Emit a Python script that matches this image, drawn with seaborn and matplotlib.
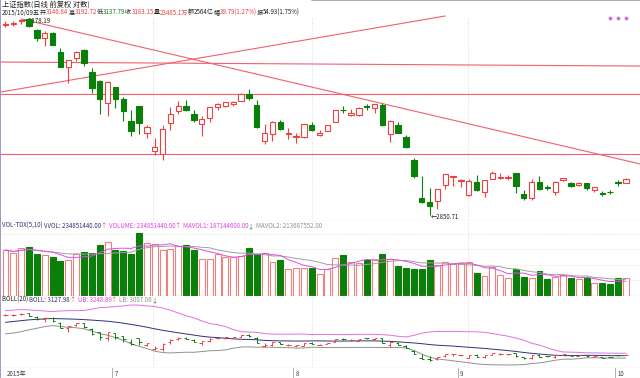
import numpy as np
import pandas as pd
import matplotlib
matplotlib.use('Agg')
import matplotlib.pyplot as plt
import matplotlib.transforms as mtransforms
import seaborn as sns

# 上证指数 日线 2015-06-10 ~ 2015-10-09
dates = ['06-10', '06-11', '06-12', '06-15', '06-16', '06-17', '06-18', '06-19', '06-23', '06-24',
         '06-25', '06-26', '06-29', '06-30', '07-01', '07-02', '07-03', '07-06', '07-07', '07-08',
         '07-09', '07-10', '07-13', '07-14', '07-15', '07-16', '07-17', '07-20', '07-21', '07-22',
         '07-23', '07-24', '07-27', '07-28', '07-29', '07-30', '07-31', '08-03', '08-04', '08-05',
         '08-06', '08-07', '08-10', '08-11', '08-12', '08-13', '08-14', '08-17', '08-18', '08-19',
         '08-20', '08-21', '08-24', '08-25', '08-26', '08-27', '08-28', '08-31', '09-01', '09-02',
         '09-07', '09-08', '09-09', '09-10', '09-11', '09-14', '09-15', '09-16', '09-17', '09-18',
         '09-21', '09-22', '09-23', '09-24', '09-25', '09-28', '09-29', '09-30', '10-08', '10-09']
opens = [5080.0, 5101.0, 5143.3, 5174.4, 5004.4, 4890.5, 4967.3, 4689.9, 4471.6, 4604.4,
         4711.8, 4399.9, 4289.8, 4006.8, 4214.2, 4058.6, 3793.4, 3975.2, 3663.0, 3467.4,
         3432.5, 3767.8, 3913.9, 3972.5, 3874.9, 3761.9, 3826.0, 3959.7, 3973.1, 3996.2,
         4034.8, 4124.6, 3985.6, 3573.1, 3652.2, 3779.9, 3644.8, 3614.6, 3613.9, 3747.6,
         3640.1, 3683.3, 3786.2, 3928.6, 3870.0, 3862.6, 3974.8, 3946.3, 3986.3, 3646.8,
         3754.6, 3609.9, 3373.5, 3004.4, 2970.0, 2978.0, 3125.3, 3203.6, 3157.8, 3027.7,
         3149.4, 3054.4, 3180.8, 3190.6, 3189.5, 3237.2, 3041.4, 3000.4, 3147.9, 3100.0,
         3053.1, 3167.7, 3139.5, 3126.9, 3141.5, 3078.6, 3052.1, 3054.0, 3156.1, 3146.84]
highs = [5147.4, 5143.3, 5178.19, 5176.8, 5029.7, 4986.7, 4983.8, 4744.1, 4577.3, 4691.8,
         4720.7, 4456.9, 4297.5, 4287.3, 4214.2, 4080.1, 3927.6, 3975.2, 3747.9, 3600.7,
         3748.5, 3959.2, 4030.2, 4043.6, 3920.1, 3854.2, 3964.7, 4006.0, 4017.7, 4036.0,
         4133.6, 4184.5, 4051.0, 3757.7, 3792.0, 3803.9, 3716.3, 3660.7, 3757.3, 3782.4,
         3693.4, 3754.7, 3929.5, 3970.3, 3936.9, 3955.8, 3998.3, 3994.5, 4006.3, 3811.9,
         3788.9, 3640.2, 3388.4, 3214.4, 3092.1, 3085.4, 3232.4, 3207.9, 3180.8, 3181.8,
         3217.3, 3174.7, 3256.7, 3243.3, 3223.8, 3239.6, 3078.4, 3182.9, 3207.2, 3119.5,
         3157.3, 3193.9, 3147.7, 3148.4, 3146.1, 3100.8, 3062.4, 3073.3, 3172.3, 3192.72]
lows = [5050.0, 5072.0, 5103.4, 5048.7, 4846.6, 4767.3, 4780.7, 4476.5, 4264.8, 4552.4,
        4483.4, 4139.5, 3875.1, 3847.9, 3945.4, 3795.3, 3629.6, 3653.0, 3602.4, 3421.5,
        3373.5, 3689.7, 3874.3, 3915.7, 3780.6, 3629.0, 3789.6, 3926.5, 3955.4, 3966.8,
        4029.8, 4043.2, 3720.6, 3537.4, 3573.6, 3698.3, 3593.7, 3549.6, 3605.0, 3686.6,
        3620.9, 3683.3, 3786.2, 3891.3, 3853.9, 3855.4, 3928.7, 3884.6, 3743.3, 3558.4,
        3663.1, 3490.5, 3191.1, 2952.9, 2850.71, 2906.0, 3085.7, 3109.2, 3102.9, 3019.1,
        3066.3, 3011.8, 3180.8, 3178.6, 3166.4, 3049.8, 2983.9, 2983.3, 3077.4, 3078.9,
        3031.9, 3160.3, 3102.6, 3112.4, 3074.7, 3056.6, 3024.1, 3039.7, 3118.2, 3137.79]
closes = [5106.04, 5121.59, 5166.35, 5062.99, 4887.43, 4967.90, 4785.36, 4478.36, 4576.49, 4690.15,
          4527.78, 4192.87, 4053.03, 4277.22, 4053.70, 3912.77, 3686.92, 3775.91, 3727.12, 3507.19,
          3709.33, 3877.80, 3970.39, 3924.49, 3805.70, 3823.18, 3957.35, 3992.11, 4017.67, 4026.04,
          4123.92, 4070.91, 3725.56, 3663.00, 3789.17, 3705.77, 3663.73, 3622.91, 3756.55, 3694.57,
          3661.54, 3744.20, 3928.42, 3927.91, 3886.32, 3954.56, 3965.33, 3993.67, 3748.16, 3794.11,
          3664.29, 3507.74, 3209.91, 2964.97, 2927.29, 3083.59, 3232.35, 3205.99, 3166.62, 3160.17,
          3080.42, 3170.45, 3243.09, 3197.89, 3200.23, 3114.80, 3005.17, 3152.26, 3086.06, 3097.92,
          3156.54, 3185.62, 3115.89, 3142.69, 3092.35, 3100.76, 3038.14, 3052.78, 3143.36, 3183.15]
# 成交量 (亿)
volumes = [5.90, 5.52, 6.16, 6.29, 5.39, 5.26, 5.00, 4.49, 4.62, 5.39,
           5.65, 5.52, 6.54, 6.93, 5.90, 5.77, 5.39, 8.08, 6.80, 6.67,
           5.90, 6.03, 6.42, 6.54, 5.90, 4.75, 4.75, 5.39, 5.00, 5.00,
           5.13, 6.16, 5.39, 5.52, 4.36, 4.62, 3.46, 3.59, 3.59, 3.59,
           2.78, 3.50, 4.91, 5.26, 4.40, 4.27, 4.62, 4.62, 5.35, 4.71,
           3.85, 3.63, 3.43, 3.50, 4.62, 3.94, 4.40, 4.07, 4.20, 4.36,
           2.99, 2.57, 3.76, 2.66, 2.27, 3.50, 2.48, 2.35, 3.21, 2.14,
           2.44, 2.69, 2.35, 2.14, 2.35, 1.63, 1.63, 1.50, 2.35, 2.35]
# 06-10 之前 19 个交易日收盘, 用于 BOLL(20)
prior_closes = [4378.31, 4308.69, 4283.49, 4417.55, 4446.29, 4529.42, 4657.60, 4813.80, 4910.90, 4941.71,
                4620.27, 4611.74, 4828.74, 4910.53, 4909.98, 4947.10, 5023.10, 5131.88, 5113.53]

# 画线工具: (起点序号, 起点价, 终点序号, 终点价)
trend_lines = [(-0.7, 4144.0, 56.0, 5226.0),
               (2, 5178.19, 80.8, 3330.0),
               (-0.7, 4542.0, 80.8, 4487.0),
               (-0.7, 4123.9, 80.8, 4123.9),
               (-0.7, 3436.0, 80.8, 3436.0)]
month_start = ['07-01', '08-03', '09-01', '10-08']
month_labels = ['7', '8', '9', '10']
signal_dates = ['09-30', '10-08', '10-09']

RED = '#ee4040'
GREEN = '#0a7f0a'
VRED = '#f08080'
LINE = '#f06070'
GRID = '#cfcfcf'

df = pd.DataFrame({'date': dates, 'open': opens, 'high': highs, 'low': lows,
                   'close': closes, 'vol': volumes})
df['i'] = np.arange(len(df))
df['up'] = df['close'] >= df['open']
allc = pd.Series(prior_closes + closes)
mid = allc.rolling(20).mean().iloc[len(prior_closes):].values
sd = allc.rolling(20).std().iloc[len(prior_closes):].values
df['mid'] = mid
df['ub'] = mid + 2 * sd
df['lb'] = mid - 2 * sd
df['ma5'] = df['vol'].rolling(5, min_periods=1).mean()
df['ma10'] = df['vol'].rolling(10, min_periods=1).mean()
up = df[df['up']]
dn = df[~df['up']]

sns.set_theme(style='white')
plt.rcParams['font.family'] = ['Noto Sans CJK SC', 'DejaVu Sans']
plt.rcParams['axes.unicode_minus'] = False

H = 378.0
fig = plt.figure(figsize=(6.4, 3.78), dpi=100)
ax = fig.add_axes([0, (H - 221) / H, 1, 221 / H])
axv = fig.add_axes([0, (H - 296) / H, 1, 75 / H])
axb = fig.add_axes([0, 10 / H, 1, 72 / H])
axx = fig.add_axes([0, 0, 1, 10 / H])
XL = (-0.7, 80.8)
for a in (ax, axv, axb, axx):
    a.set_xlim(*XL)
    for s in a.spines.values():
        s.set_visible(False)
    a.spines['left'].set_visible(True)
    a.spines['left'].set_color('#9090b8')
    a.spines['bottom'].set_visible(True)
    a.spines['bottom'].set_color('#b0b0b0')
    a.spines['bottom'].set_linewidth(0.8)

FS = 4.4

def chain(a, pieces, x, y, size=FS):
    prev = None
    for txt, col in pieces:
        if prev is None:
            prev = a.text(x, y, txt, color=col, fontsize=size, transform=a.transAxes,
                          ha='left', va='bottom', zorder=6)
        else:
            prev = a.annotate(txt, xy=(1, 0), xycoords=prev, color=col, fontsize=size,
                              ha='left', va='bottom', zorder=6)

# ---- 主图 K线 ----
ax.set_yscale('log')
ax.set_ylim(2798.8, 5486.8)
# 顶部边框 (右半部分)
ax.plot([39.0, XL[1]], [1, 1], transform=mtransforms.blended_transform_factory(ax.transData, ax.transAxes),
        color='#a8a8a8', lw=1.4, clip_on=False, zorder=5)
for gx in (18.8, 39.0, 58.9):
    ax.axvline(gx, ymax=(221 - 17) / 221, color=GRID, lw=0.6, ls=(0, (1, 2)), zorder=0)
for x0, p0, x1, p1 in trend_lines:
    ax.plot([x0, x1], [p0, p1], color=LINE, lw=0.8, zorder=1)
ax.vlines(df['i'], df['low'], df['high'], colors=np.where(df['up'], RED, GREEN), lw=0.8, zorder=2)
ax.bar(up['i'], up['close'] - up['open'], bottom=up['open'], width=0.68,
       facecolor='white', edgecolor=RED, lw=0.8, zorder=3)
ax.bar(dn['i'], dn['open'] - dn['close'], bottom=dn['close'], width=0.68,
       facecolor=GREEN, edgecolor=GREEN, lw=0.8, zorder=3)
hi = df.loc[df['high'].idxmax()]
lo = df.loc[df['low'].idxmin()]
ax.text(hi['i'] + 0.25, hi['high'] * 0.993, '\u2190%.2f' % hi['high'], fontsize=FS, va='center',
        ha='left', color='#202020', zorder=2.5)
ax.text(lo['i'] + 0.1, lo['low'] * 0.993, '\u2190%.2f' % lo['low'], fontsize=FS, va='center',
        ha='left', color='#202020', zorder=4)
sig = df[df['date'].isin(signal_dates)]
tr = mtransforms.blended_transform_factory(ax.transData, ax.transAxes)
ax.scatter(sig['i'], [1 - 18 / 221] * len(sig), transform=tr, s=3, color='#d070d8', zorder=5)
ax.set_xticks([])
ax.set_yticks([])
ax.set_yticks([], minor=True)

chain(ax, [('上证指数(日线 前复权 对数)', '#202020')], 0.003, 1 - 8.5 / 221, size=5.2)
last = df.iloc[-1]
prev_close = df.iloc[-2]['close']
chain(ax, [('2015/10/09五', '#202020'),
           ('开', '#202020'), ('%.2f' % last['open'], RED),
           ('高', '#202020'), ('%.2f' % last['high'], RED),
           ('低', '#202020'), ('%.2f' % last['low'], GREEN),
           ('收', '#202020'), ('%.2f' % last['close'], RED),
           ('量', '#202020'), ('23485.1万', RED),
           ('额', '#202020'), ('2564亿', '#202020'),
           ('幅', '#202020'), ('%.2f(%.2f%%)' % (last['close'] - prev_close,
                                               (last['close'] / prev_close - 1) * 100), RED),
           ('振', '#202020'), ('%.2f(%.2f%%)' % (last['high'] - last['low'],
                                                (last['high'] - last['low']) / prev_close * 100), '#202020')],
      0.003, 1 - 16.5 / 221)

# ---- 成交量 ----
vmax = 75 * 0.1283
axv.set_ylim(0, vmax)
for gy in (2, 4, 6, 8):
    axv.axhline(gy, color=GRID, lw=0.5, ls=(0, (1, 2)), zorder=0)
axv.axvline(58.9, color=GRID, lw=0.6, ls=(0, (1, 2)), zorder=0)
vu = df[df['up']]
vd = df[~df['up']]
axv.bar(vu['i'], vu['vol'], width=0.76, facecolor='white', edgecolor=VRED, lw=0.8, zorder=2)
axv.bar(vd['i'], vd['vol'], width=0.76, facecolor=GREEN, edgecolor=GREEN, lw=0.8, zorder=2)
sns.lineplot(data=df, x='i', y='ma10', ax=axv, color='#a0a0a0', lw=0.7, legend=False, zorder=3)
sns.lineplot(data=df, x='i', y='ma5', ax=axv, color='#e050e0', lw=0.7, legend=False, zorder=3)
axv.set_xlim(*XL)
axv.set_xlabel('')
axv.set_ylabel('')
axv.set_xticks([])
axv.set_yticks([])
chain(axv, [('VOL-TDX(5,10) ', '#303070'), ('VVOL: 234851440.00', '#303070'), ('\u2191 ', RED),
            ('VOLUME: 234851440.00', '#e040e0'), ('\u2191 ', RED),
            ('MAVOL1: 187144600.00', '#e040e0'), ('\u2193 ', GREEN),
            ('MAVOL2: 213687552.00', '#909090')], 0.003, 1 - 9 / 75)

# ---- BOLL ----
top_v = df['ub'].max()
bot_v = min(df['lb'].min(), df['low'].min())
pp = (top_v - bot_v) / 60.0
axb.set_ylim(bot_v - 3 * pp, top_v + 9 * pp)
for gx in (18.8, 39.0, 58.9):
    axb.axvline(gx, color=GRID, lw=0.6, ls=(0, (1, 2)), zorder=0)
sns.lineplot(data=df, x='i', y='ub', ax=axb, color='#e070e0', lw=0.7, legend=False)
sns.lineplot(data=df, x='i', y='lb', ax=axb, color='#909090', lw=0.7, legend=False)
sns.lineplot(data=df, x='i', y='mid', ax=axb, color='#303078', lw=0.7, legend=False)
bc = np.where(df['up'], RED, GREEN)
axb.vlines(df['i'], df['low'], df['high'], colors=bc, lw=0.7, zorder=3)
axb.hlines(df['open'], df['i'] - 0.32, df['i'], colors=bc, lw=0.7, zorder=3)
axb.hlines(df['close'], df['i'], df['i'] + 0.32, colors=bc, lw=0.7, zorder=3)
axb.set_xlim(*XL)
axb.set_xlabel('')
axb.set_ylabel('')
axb.set_xticks([])
axb.set_yticks([])
lastb = df.iloc[-1]
chain(axb, [('BOLL(20) ', '#202020'), ('BOLL: %.2f' % lastb['mid'], '#303070'), ('\u2191 ', RED),
            ('UB: %.2f' % lastb['ub'], '#e040e0'), ('\u2191 ', RED),
            ('LB: %.2f' % lastb['lb'], '#909090'), ('\u2193', GREEN)], 0.003, 1 - 8 / 72)

# ---- 时间轴 ----
axx.set_ylim(0, 1)
axx.set_xticks([])
axx.set_yticks([])
axx.text(0.15, 0.45, '2015年', fontsize=FS, va='center', ha='left', color='#404040')
for d, lab in zip(month_start, month_labels):
    mi = df.index[df['date'] == d][0]
    axx.axvline(mi - 0.4, color='#a0a0a0', lw=0.6)
    axx.text(mi - 0.1, 0.45, lab, fontsize=FS, va='center', ha='left', color='#404040')

fig.savefig('out.png', dpi=100)
